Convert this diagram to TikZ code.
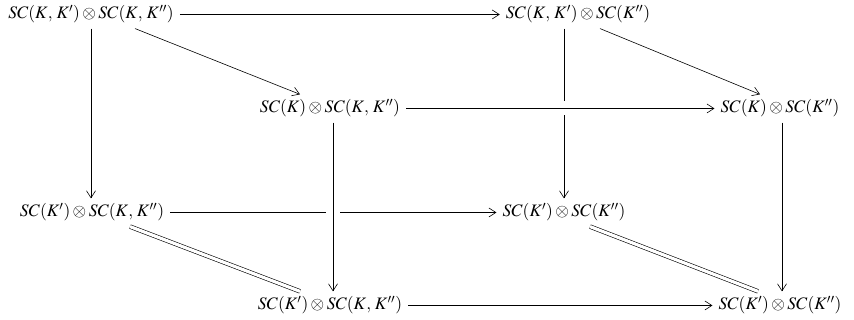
\documentclass[tikz,border=0pt]{standalone}
\usepackage{mathptmx}
\usetikzlibrary{arrows.meta}
\newcommand{\cm}{,\mskip2mu}
\begin{document}
\begin{tikzpicture}[x=1pt,y=-1pt,
  obj/.style={anchor=base, inner xsep=6pt, inner ysep=5pt, font=\fontsize{17.5}{21}\selectfont},
  arr/.style={draw, line width=0.6pt, -{Straight Barb[length=7pt,width=9pt]}},
  eq/.style={draw, double, double distance=3.2pt, line width=0.6pt},
  over/.style={preaction={draw,white,line width=14pt,-,shorten <=10pt,shorten >=10pt}}]
\useasboundingbox (0,0) rectangle (854,320);
\node[obj] (A) at (91,19) {$SC(K\cm K')\otimes SC(K\cm K'')$};
\node[obj] (B) at (578,19) {$SC(K\cm K')\otimes SC(K'')$};
\node[obj] (C) at (330,113) {$SC(K)\otimes SC(K\cm K'')$};
\node[obj] (D) at (780,113) {$SC(K)\otimes SC(K'')$};
\node[obj] (E) at (92,217) {$SC(K')\otimes SC(K\cm K'')$};
\node[obj] (F) at (564,217) {$SC(K')\otimes SC(K'')$};
\node[obj] (G) at (330,310) {$SC(K')\otimes SC(K\cm K'')$};
\node[obj] (H) at (780,310) {$SC(K')\otimes SC(K'')$};
% back face
\draw[arr] (A) -- (B);
\draw[arr] (A.south) -- (A.south |- E.north);
\draw[arr] (B.south -| F.north) -- (F.north);
\draw[arr] (E) -- (F);
% diagonals
\draw[arr] ([xshift=44pt]A.south) -- ([xshift=-30pt]C.north);
\draw[arr] ([xshift=22pt]B.south) -- ([xshift=-20pt]D.north);
\draw[eq] ([xshift=38pt]E.south) -- ([xshift=-30pt]G.north);
\draw[eq] ([xshift=26pt]F.south) -- ([xshift=-22pt]H.north);
% front face
\draw[arr,over] (C) -- (D);
\draw[arr,over] ([xshift=3pt]C.south) -- ([xshift=3pt]C.south |- G.north);
\draw[arr] ([xshift=2pt]D.south) -- ([xshift=2pt]D.south |- H.north);
\draw[arr] (G) -- (H);
\end{tikzpicture}
\end{document}
